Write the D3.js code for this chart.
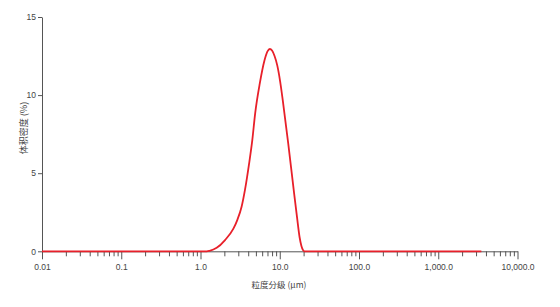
<!DOCTYPE html>
<html>
<head>
<meta charset="utf-8">
<script src="https://cdn.jsdelivr.net/npm/d3@7"></script>
<style>
  body { margin: 0; background: #fff; }
  .axis path, .axis line { stroke: #555; }
  .axis text { font-family: "Liberation Sans Narrow", "Liberation Sans", Arial, sans-serif; font-size: 8.5px; fill: #444; }
  .label { font-family: "Noto Sans CJK SC", sans-serif; fill: #444; }
</style>
</head>
<body>
<div id="chart"></div>
<script>
// particle size classes (μm) and volume density (%)
var sizes  = [0.01, 1.2, 1.3, 1.6, 2.04, 2.6, 2.91, 3.3, 3.64, 4.1, 4.5, 4.9, 5.6, 6.4, 7.0, 7.5, 8.0, 8.6, 9.3, 10.1, 10.9, 12.8, 15.0, 16.5, 17.8, 19.8, 20.5, 3500];
var values = [0,    0,   0.03, 0.22, 0.72, 1.45, 2.0, 2.85, 3.93, 5.6, 7.1, 8.85, 10.75, 12.2, 12.8, 12.95, 12.85, 12.5, 11.9, 10.9, 9.7, 6.9, 3.93, 2.2, 0.9, 0.05, 0, 0];

var xMajor = [0.01, 0.1, 1, 10, 100, 1000, 10000];
var xMajorLabels = ["0.01", "0.1", "1.0", "10.0", "100.0", "1,000.0", "10,000.0"];
var yTicks = [0, 5, 10, 15];

var svgWidth = 560;
var svgHeight = 307;

var margin = { top: 17, right: 42, bottom: 56, left: 42 };
var width = 517.5 - margin.left;
var height = 251.3 - margin.top;

var svg = d3.select("#chart")
  .append("svg")
  .attr("width", svgWidth)
  .attr("height", svgHeight);

var chartGroup = svg.append("g")
  .attr("transform", `translate(${margin.left}, ${margin.top})`);

var xScale = d3.scaleLog().domain([0.01, 10000]).range([0, width]);
var yScale = d3.scaleLinear().domain([0, 15]).range([height, 0]);

// minor ticks 2..9 in each decade
var xMinor = [];
for (var i = 0; i < xMajor.length - 1; i++) {
  for (var m = 2; m <= 9; m++) xMinor.push(xMajor[i] * m);
}

chartGroup.append("g")
  .attr("class", "axis")
  .attr("transform", `translate(0, ${height})`)
  .call(d3.axisBottom(xScale).tickValues(xMinor).tickSize(5).tickFormat(""))
  .select(".domain").remove();

chartGroup.append("g")
  .attr("class", "axis")
  .attr("transform", `translate(0, ${height})`)
  .call(d3.axisBottom(xScale).tickValues(xMajor).tickSize(8).tickSizeOuter(0)
    .tickFormat((d, i) => xMajorLabels[i]))
  .selectAll("text").attr("dy", "0.95em");

chartGroup.append("g")
  .attr("class", "axis")
  .call(d3.axisLeft(yScale).tickValues(yTicks).tickSize(4).tickSizeOuter(0).tickPadding(2));

// curve
var line = d3.line()
  .x((d, i) => xScale(sizes[i]))
  .y(d => yScale(d))
  .curve(d3.curveMonotoneX);

chartGroup.append("path")
  .datum(values)
  .attr("fill", "none")
  .attr("stroke", "#e8202a")
  .attr("stroke-width", 1.8)
  .attr("d", line);

// axis titles
svg.append("text")
  .attr("class", "label")
  .attr("x", 279)
  .attr("y", 288)
  .attr("text-anchor", "middle")
  .style("font-size", "8.5px")
  .text("粒度分级 (μm)");

svg.append("text")
  .attr("class", "label")
  .attr("transform", "translate(27, 128) rotate(-90)")
  .attr("text-anchor", "middle")
  .style("font-size", "9px")
  .text("体积密度 (%)");
</script>
</body>
</html>
